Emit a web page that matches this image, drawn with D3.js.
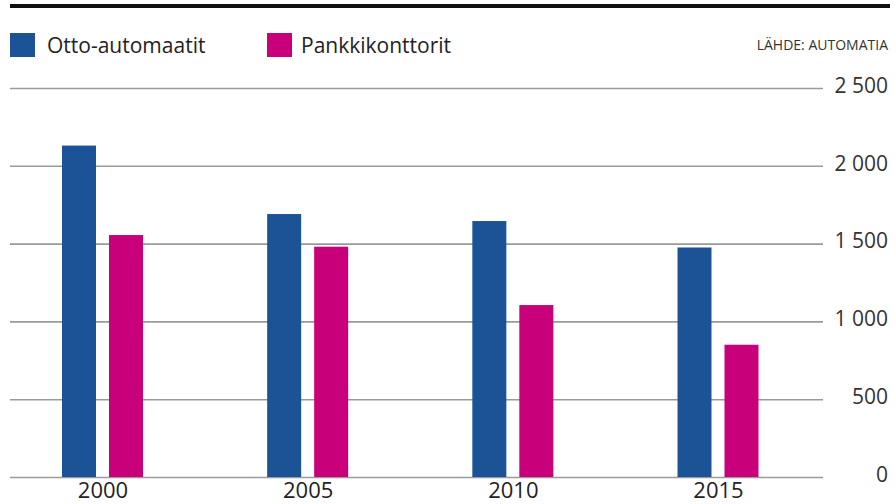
<!DOCTYPE html>
<html><head><meta charset="utf-8">
<script src="https://cdn.jsdelivr.net/npm/d3@7"></script>
<style>body{margin:0;background:#fff}svg{display:block}text{font-family:"Open Sans",sans-serif}</style>
</head><body>
<svg id="c" width="895" height="504"></svg>
<script>
const years = ["2000","2005","2010","2015"];
const seriesNames = ["Otto-automaatit","Pankkikonttorit"];
const ottoValues = [2130,1690,1645,1475];
const pankkiValues = [1555,1480,1105,850];
const yTicks = [0,500,1000,1500,2000,2500];
const tickLabels = ["0","500","1 000","1 500","2 000","2 500"];
const sourceText = "LÄHDE: AUTOMATIA";
const colors = ["#1c5296","#c8007a"];

const svg = d3.select("#c");
const y = d3.scaleLinear().domain([0,2500]).range([477,88]);
const x = d3.scalePoint().domain(years).range([102.5,718]);
const xs = d3.scaleBand().domain(seriesNames).range([-40.5,40.5]).paddingInner(13/47).paddingOuter(0);

// top rule
svg.append("line").attr("x1",10).attr("x2",890).attr("y1",6).attr("y2",6)
  .attr("stroke","#111").attr("stroke-width",4);

// grid + labels
const yAxis = d3.axisRight(y).tickValues(yTicks).tickSize(813).tickFormat((d,i)=>tickLabels[i]);
const g = svg.append("g").attr("transform","translate(10,0)").call(yAxis);
g.select(".domain").remove();
g.selectAll(".tick line").attr("stroke","#9a9a9a").attr("stroke-width",1.6);
g.selectAll(".tick text").attr("x",878).attr("y",-3).attr("text-anchor","end").attr("fill","#333")
  .style("font-size","21px").style("font-family","Open Sans").attr("dy","0.35em");

// bars
const data = years.map((yr,i)=>({yr, vals:[ottoValues[i],pankkiValues[i]]}));
const grp = svg.append("g").selectAll("g").data(data).join("g")
  .attr("transform",d=>`translate(${x(d.yr)},0)`);
grp.selectAll("rect").data(d=>d.vals.map((v,j)=>({v,s:seriesNames[j],j}))).join("rect")
  .attr("x",d=>xs(d.s)).attr("width",xs.bandwidth())
  .attr("y",d=>y(d.v)).attr("height",d=>y(0)-y(d.v)).attr("fill",d=>colors[d.j]);

// x labels
const xAxis = d3.axisBottom(x).tickSize(0).tickPadding(4);
const xg = svg.append("g").attr("transform","translate(0,478)").call(xAxis);
xg.select(".domain").remove();
xg.selectAll("text").attr("fill","#222").style("font-size","22px").style("font-family","Open Sans");

// legend
const leg = [[10,47],[267,301]];
seriesNames.forEach((s,i)=>{
  svg.append("rect").attr("x",leg[i][0]).attr("y",33).attr("width",25).attr("height",24).attr("fill",colors[i]);
  svg.append("text").attr("x",leg[i][1]).attr("y",53).text(s).attr("fill","#222").style("font-size","21px");
});
svg.append("text").attr("x",888).attr("y",50).attr("text-anchor","end").text(sourceText)
  .attr("fill","#333").style("font-size","14px");
</script>
</body></html>
